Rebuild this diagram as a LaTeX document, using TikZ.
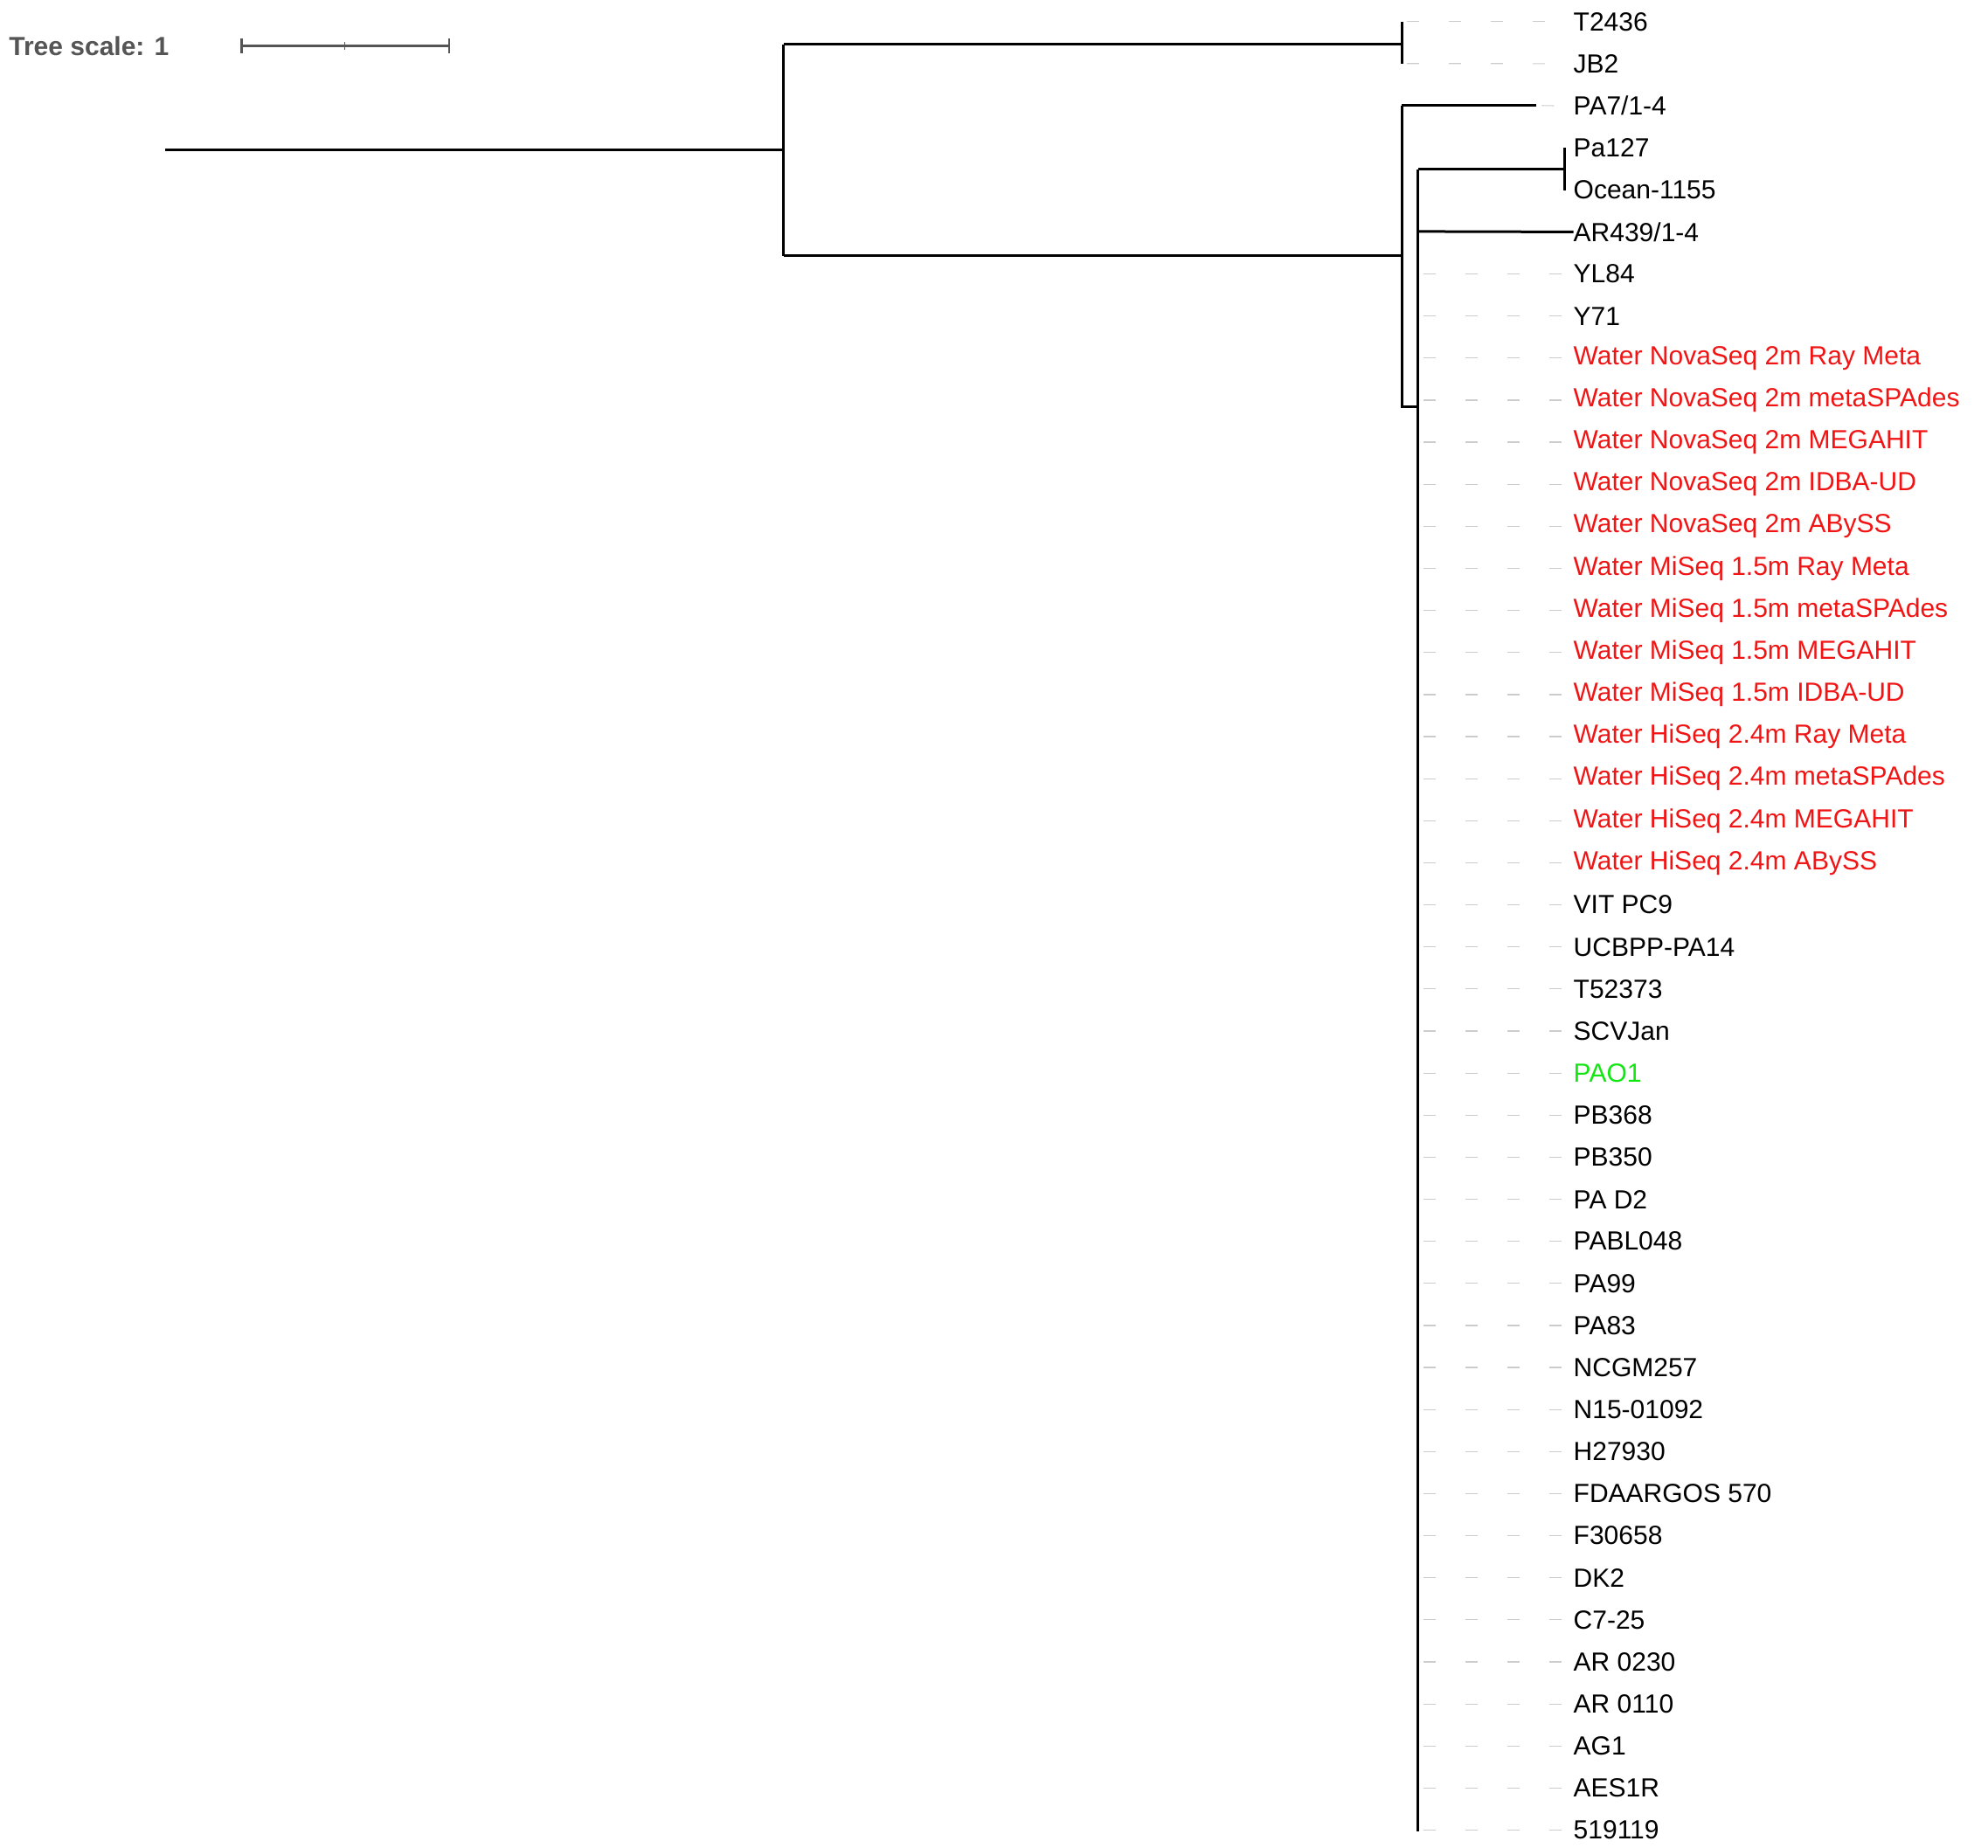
\documentclass[tikz,border=0pt]{standalone}
\usepackage{fontspec}
\setmainfont{Liberation Sans}
\definecolor{wred}{RGB}{240,20,20}
\definecolor{wgreen}{RGB}{20,230,20}
\definecolor{sgrey}{RGB}{85,85,85}
\begin{document}
\begin{tikzpicture}[x=1.4555pt,y=-1.4555pt,
  br/.style={line width=3pt,black},
  dsh/.style={line width=1.2pt,color=black!20,dash pattern=on 14pt off 34pt,dash phase=-6pt},
  lab/.style={anchor=west,inner sep=0pt,font=\fontsize{30}{30}\selectfont},
  red/.style={lab,text=wred},
  grn/.style={lab,text=wgreen}]
\useasboundingbox (0,0) rectangle (1563,1453);
% scale
\node[anchor=west,inner sep=0pt,text=sgrey,font=\fontsize{30}{30}\selectfont\bfseries] (ts) at (7,36) {Tree scale: 1};
\coordinate (s0) at (190,36); \coordinate (s1) at (353,36);
\draw[line width=2.5pt,sgrey] (s0) -- (s1);
\draw[line width=2.5pt,sgrey] (190,30) -- (190,42) (353,30) -- (353,42);
\draw[line width=1.5pt,sgrey] (271,33) -- (271,39);
% labels
\foreach \t [count=\i from 0] in {T2436,JB2,PA7/1-4,Pa127,Ocean-1155,AR439/1-4,YL84,Y71}
  \node[lab] (l\i) at (1237,{17+33.07*\i}) {\t};
\foreach \t [count=\i from 8] in {Water NovaSeq 2m Ray Meta,Water NovaSeq 2m metaSPAdes,Water NovaSeq 2m MEGAHIT,Water NovaSeq 2m IDBA-UD,Water NovaSeq 2m ABySS,Water MiSeq 1.5m Ray Meta,Water MiSeq 1.5m metaSPAdes,Water MiSeq 1.5m MEGAHIT,Water MiSeq 1.5m IDBA-UD,Water HiSeq 2.4m Ray Meta,Water HiSeq 2.4m metaSPAdes,Water HiSeq 2.4m MEGAHIT,Water HiSeq 2.4m ABySS}
  \node[red] (l\i) at (1237,{17+33.07*\i}) {\t};
\foreach \t [count=\i from 21] in {VIT PC9,UCBPP-PA14,T52373,SCVJan}
  \node[lab] (l\i) at (1237,{17+33.07*\i}) {\t};
\node[grn] (l25) at (1237,{17+33.07*25}) {PAO1};
\foreach \t [count=\i from 26] in {PB368,PB350,PA D2,PABL048,PA99,PA83,NCGM257,N15-01092,H27930,FDAARGOS 570,F30658,DK2,C7-25,AR 0230,AR 0110,AG1,AES1R,519119}
  \node[lab] (l\i) at (1237,{17+33.07*\i}) {\t};
% tree
\coordinate (root) at (130,118);
\coordinate (n1) at (616,118);
\draw[br] (root) -- (n1);
\draw[br] (616,35) -- (616,201);
\draw[br] (616,35) -- (1102,35);
\draw[br] (616,201) -- (1102,201);
\draw[br] (1102,17) -- (1102,50);
\draw[dsh] (1102,17) -- (l0.west);
\draw[dsh] (1102,50) -- (l1.west);
\draw[br] (1102,83) -- (1102,320) -- (1115,320);
\draw[br] (1102,83) -- (1208,83);
\draw[dsh] (1208,83) -- (l2.west);
\draw[br] (1115,133) -- (1115,1440);
\draw[br] (1115,133) -- (1230,133);
\draw[br] (1230,116) -- (1230,150);
\draw[br] (1115,182) -- (l5.west);
\foreach \i in {6,...,43}
  \draw[dsh] (1115,{17+33.07*\i}) -- (l\i.west);
\end{tikzpicture}
\end{document}
